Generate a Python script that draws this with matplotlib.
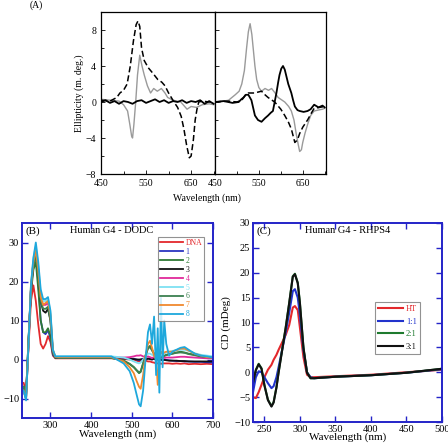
import numpy as np
import matplotlib as mpl
mpl.use('Agg')
import matplotlib.pyplot as plt

plt.rcParams['font.family'] = ['Liberation Serif', 'DejaVu Serif']

# ---- panel A data (wavelength nm, ellipticity m.deg) ----
a_left_dash_x = [450, 470, 485, 492, 500, 508, 515, 522, 528, 532, 536, 540, 546, 555, 565, 576, 585, 592, 600, 612, 620, 628, 634, 640, 646, 650, 655, 659, 663, 667, 675, 690, 700]
a_left_dash_y = [0.2, 0.1, 0.5, 1.0, 1.3, 2.0, 4.0, 6.8, 8.6, 9.0, 8.4, 6.0, 4.6, 3.8, 3.2, 2.5, 2.2, 1.8, 1.0, 0.0, -0.6, -1.6, -3.0, -4.8, -6.2, -6.0, -4.2, -2.0, -0.8, 0.0, 0.1, 0.0, 0.1]
a_left_gray_x = [450, 470, 490, 500, 509, 514, 518, 520, 523, 527, 531, 536, 541, 546, 553, 560, 567, 575, 584, 592, 598, 610, 627, 641, 650, 662, 675, 690, 700]
a_left_gray_y = [0.3, 0.2, 0.1, -0.3, -1.0, -2.5, -3.8, -4.0, -2.5, 0.0, 3.0, 5.2, 4.0, 3.0, 1.8, 1.0, 1.5, 1.2, 1.5, 1.0, 0.5, 0.2, 0.0, -0.8, -0.5, -0.6, -0.3, -0.2, -0.3]
a_left_solid_x = [450, 460, 470, 480, 490, 500, 510, 520, 530, 540, 550, 560, 570, 580, 590, 600, 610, 620, 630, 640, 650, 660, 670, 680, 690, 700]
a_left_solid_y = [0.0, 0.2, -0.1, 0.1, -0.2, 0.1, 0.0, -0.2, 0.1, 0.2, -0.1, 0.1, 0.3, 0.0, 0.2, -0.1, 0.1, 0.0, 0.2, -0.1, 0.1, 0.0, 0.2, -0.2, 0.1, -0.2]

a_right_gray_x = [450, 470, 481, 496, 505, 511, 517, 522, 526, 530, 534, 537, 541, 545, 550, 556, 564, 572, 579, 587, 594, 609, 618, 624, 630, 635, 640, 643, 647, 650, 655, 661, 668, 676, 685, 695, 700]
a_right_gray_y = [0.0, 0.1, 0.2, 0.8, 1.2, 2.0, 3.5, 6.0, 7.8, 8.7, 7.5, 6.0, 4.0, 2.5, 1.6, 1.2, 1.5, 1.3, 1.5, 1.0, 0.5, 0.0, -0.5, -1.0, -2.0, -3.5, -4.8, -5.5, -5.3, -4.5, -3.5, -2.5, -1.5, -1.0, -0.9, -0.8, -0.7]
a_right_dash_x = [450, 480, 500, 511, 520, 526, 540, 556, 564, 571, 586, 600, 609, 617, 624, 632, 638, 643, 650, 661, 670, 676, 688, 700]
a_right_dash_y = [0.0, 0.1, 0.0, 0.2, 0.8, 1.0, 1.0, 1.2, 0.8, 0.5, 0.0, -0.8, -1.5, -2.2, -3.0, -4.5, -4.2, -3.5, -2.8, -2.0, -1.2, -0.7, -0.6, -0.5]
a_right_solid_x = [450, 470, 490, 504, 510, 515, 520, 526, 533, 541, 548, 556, 564, 571, 577, 582, 586, 590, 594, 597, 601, 605, 609, 612, 617, 624, 628, 632, 638, 643, 652, 661, 668, 676, 686, 695, 700]
a_right_solid_y = [0.0, 0.1, -0.1, 0.0, 0.3, 0.5, 0.8, 0.8, 0.2, -1.5, -2.0, -2.2, -1.8, -1.5, -1.2, -1.0, 0.0, 1.0, 2.2, 3.0, 3.7, 4.0, 3.6, 3.0, 2.0, 1.0, 0.2, -0.5, -0.9, -1.0, -1.1, -1.0, -0.8, -0.3, -0.6, -0.4, -0.6]

# ---- panel B data: Human G4 - DODC ----
wl_b = [234, 240, 246, 252, 258, 264, 270, 276, 282, 288, 294, 300, 306, 312, 320, 350, 400, 450, 480, 495, 505, 512, 518, 522, 528, 534, 540, 545, 550, 555, 560, 564, 568, 572, 576, 580, 585, 592, 600, 610, 620, 630, 640, 655, 670, 685, 700]
b_labels = ['DNA', '1', '2', '3', '4', '5', '6', '7', '8']
b_colors = ['#e3282c', '#2b35c0', '#2e7a34', '#111111', '#e02a9a', '#7ee0f2', '#3c8050', '#f0892e', '#1ea8dc']
cd_dna = [-6, -8, 3, 15, 19, 15, 9, 4, 2.8, 4, 6, 4.5, 1, 0.3, 0.3, 0.3, 0.3, 0.3, 0.1, 0, 0, -0.3, -0.5, -0.3, 0, -0.3, -0.5, -0.5, -0.7, -0.8, -1, -1, -1, -1.1, -1, -1, -1, -1, -1.1, -1, -1.1, -1, -1.2, -1.1, -1.2, -1.1, -1.2]
cd_1 = [-7, -9, 5, 18, 24, 27, 20, 10, 7, 6.5, 7.5, 5.5, 1.2, 0.5, 0.4, 0.4, 0.4, 0.4, 0.3, 0.2, 0.2, 0, -0.2, 0, 0.2, 0, 0.3, 0.2, 0, 0.3, -0.2, 0, 0.2, 0, -0.2, 0, -0.1, -0.2, -0.3, -0.4, -0.4, -0.5, -0.5, -0.6, -0.6, -0.7, -0.8]
cd_2 = [-7, -9, 5, 17, 23, 25, 18, 10, 7, 7, 8, 6, 1.5, 0.5, 0.4, 0.4, 0.4, 0.4, -0.3, -1.2, -2, -2.8, -3.5, -3.2, -1, 1, 3, 3.5, 2.5, 1.5, 0, 0.8, 0.5, 0.5, 0.8, 1, 1.2, 1.4, 1.5, 1.8, 2, 1.8, 1.5, 1.2, 0.8, 0.6, 0.5]
cd_3 = [-8, -10, 4, 18, 25, 28, 22, 15, 12.5, 12, 13, 10, 2, 0.5, 0.4, 0.4, 0.4, 0.4, 0.3, 0.2, 0.1, 0, 0, 0, 0.1, 0, 0.2, 0.1, 0, 0.2, 0, 0.1, 0, 0, -0.2, -0.1, -0.2, -0.3, -0.3, -0.3, -0.4, -0.4, -0.5, -0.5, -0.5, -0.5, -0.5]
cd_4 = [-8, -10, 4, 18, 25, 28, 23, 16, 14, 14, 14.5, 11, 2, 0.6, 0.5, 0.5, 0.5, 0.5, 0.5, 0.6, 0.8, 1, 1, 1.1, 0.8, 0.6, 0.8, 0.6, 0.4, 0.6, 0.5, 0.4, 0.6, 0.5, 0.5, 0.4, 0.5, 0.5, 0.5, 0.6, 0.7, 0.7, 0.6, 0.5, 0.4, 0.3, 0.3]
cd_5 = [-8, -10, 4, 19, 26, 29, 24, 17, 15, 15, 15.5, 12, 2.5, 0.8, 0.8, 0.8, 0.8, 0.8, 0.5, 0, -0.5, -0.8, -1, -0.8, 0, 0.8, 1.5, 1.5, 1.2, 1, 0.5, 1, 0.8, 0.8, 1.2, 1.5, 1.8, 2, 2.2, 2.4, 2.5, 2.5, 2.2, 1.6, 1.2, 1, 0.8]
cd_6 = [-7, -9, 5, 18, 24, 27, 21, 15, 13, 13, 13.5, 10, 2, 0.5, 0.4, 0.4, 0.4, 0.4, -0.3, -1.1, -1.9, -2.7, -3.3, -3.0, -1, 1, 2.8, 3.2, 2.3, 1.4, 0, 0.7, 0.5, 0.5, 0.7, 0.9, 1.1, 1.3, 1.5, 1.7, 1.8, 1.7, 1.4, 1.1, 0.8, 0.6, 0.5]
cd_7 = [-8, -10, 4, 19, 25, 28, 23, 16, 14, 14.5, 15, 11.5, 2.5, 0.7, 0.6, 0.6, 0.6, 0.6, -0.5, -2, -3.5, -5.5, -7, -7.5, -4, 1, 4, 4.8, 3, 1, 0, -6.5, 0.5, 2, 1.5, 1.8, 2, 2, 2, 2.4, 2.8, 2.8, 2.3, 1.5, 1, 0.6, 0.5]
cd_8 = [-8, -10.5, 4, 19, 26, 30, 25, 18, 15.5, 15.5, 16, 12.5, 2.5, 0.8, 0.8, 0.8, 0.8, 0.8, -1, -3, -6, -9, -11.5, -12, -8, 0, 7, 9, 4, 11, -4, 8, -8.5, 15.8, -2, 10, 4, 1, 2, 2.5, 3, 3.2, 2.5, 1.5, 1, 0.8, 0.5]
b_series = [cd_dna, cd_1, cd_2, cd_3, cd_4, cd_5, cd_6, cd_7, cd_8]

# ---- panel C data: Human G4 - RHPS4 ----
wl_c = [234, 238, 242, 246, 250, 255, 260, 263, 267, 270, 275, 280, 285, 290, 293, 297, 300, 305, 310, 315, 320, 350, 400, 450, 500]
c_labels = ['HT', '1:1', '2:1', '3:1']
c_colors = ['#e3282c', '#2233cc', '#1e7a2e', '#111111']
cd_ht = [-5, -5.2, -4, -2.5, -1, 0.5, 1.5, 2.5, 3.5, 4.5, 6, 7.5, 9.5, 13, 13.3, 12.5, 9, 3, -0.5, -1, -1, -0.8, -0.5, 0, 0.5]
cd_11 = [-4, -1, 0.2, 0, -1, -2.2, -3.2, -2.8, -1, 1, 4.5, 8, 12, 16.3, 16.7, 15, 11.5, 4.5, 0, -1, -1.2, -0.9, -0.6, -0.1, 0.6]
cd_21 = [-2, 0.5, 1.7, 0.8, -2.5, -5.5, -6.8, -6, -3, 0, 4.5, 9, 14, 19.3, 19.8, 18, 14, 5, 0, -1.2, -1.2, -0.9, -0.6, -0.1, 0.7]
cd_31 = [-2.2, 0.4, 1.6, 0.7, -2.6, -5.6, -6.9, -6.1, -3.1, -0.1, 4.4, 8.9, 13.9, 19.2, 19.7, 17.9, 13.9, 4.9, -0.1, -1.2, -1.2, -0.9, -0.6, -0.1, 0.7]
c_series = [cd_ht, cd_11, cd_21, cd_31]

W, H = 448, 444
fig = plt.figure(figsize=(W / 100, H / 100), dpi=100)

def box(x0, y0, x1, y1):
    return [x0 / W, 1 - y1 / H, (x1 - x0) / W, (y1 - y0) / H]

# ---------------- panel A ----------------
axl = fig.add_axes(box(101, 12, 215, 174))
axr = fig.add_axes(box(215, 12, 326, 174), sharey=axl)
axl.plot(a_left_gray_x, a_left_gray_y, color='#9a9a9a', lw=1.0)
axl.plot(a_left_solid_x, a_left_solid_y, color='black', lw=1.3)
axl.plot(a_left_dash_x, a_left_dash_y, color='black', lw=1.1, ls=(0, (4, 2)))
axr.plot(a_right_gray_x, a_right_gray_y, color='#9a9a9a', lw=1.0)
axr.plot(a_right_dash_x, a_right_dash_y, color='black', lw=1.1, ls=(0, (4, 2)))
axr.plot(a_right_solid_x, a_right_solid_y, color='black', lw=1.3)
for ax in (axl, axr):
    ax.set_xlim(450, 703)
    ax.set_ylim(-8, 10)
    ax.set_xticks([450, 550, 650])
    ax.set_xticks([500, 600, 700], minor=True)
    ax.tick_params(direction='in', labelsize=7, length=3, width=0.6)
    ax.tick_params(which='minor', direction='in', length=2, width=0.6)
    for s in ax.spines.values():
        s.set_linewidth(0.9)
axl.set_yticks([-8, -4, 0, 4, 8])
axl.set_yticks([-6, -2, 2, 6], minor=True)
axr.tick_params(labelleft=False)
axl.set_ylabel('Ellipticity (m. deg.)', fontsize=7, labelpad=1)
fig.text(207 / W, 1 - 198 / H, 'Wavelength (nm)', ha='center', va='center', fontsize=7)
fig.text(30 / W, 1 - 5 / H, '(A)', ha='left', va='center', fontsize=7)

blue = '#2424c8'

def style_blue(ax):
    for s in ax.spines.values():
        s.set_color(blue)
        s.set_linewidth(1.4)
    ax.tick_params(which='both', direction='in', color=blue, top=True, right=True,
                   labelsize=7.5, length=4, width=1.0, pad=2)

# ---------------- panel B ----------------
axb = fig.add_axes(box(22, 223, 213, 418))
for lab, col, vals in zip(b_labels, b_colors, b_series):
    axb.plot(wl_b, vals, color=col, lw=1.3, label=lab)
axb.set_xlim(230, 700)
axb.set_ylim(-15, 35)
axb.set_xticks([300, 400, 500, 600, 700])
axb.set_yticks([-10, 0, 10, 20, 30])
style_blue(axb)
axb.set_xlabel('Wavelength (nm)', fontsize=8, labelpad=0)
axb.set_ylabel('CD (mDeg)', fontsize=8, labelpad=2)
axb.text(0.02, 0.985, '(B)', transform=axb.transAxes, ha='left', va='top', fontsize=8)
axb.text(0.47, 0.985, 'Human G4 - DODC', transform=axb.transAxes, ha='center', va='top', fontsize=7.5)
legb = axb.legend(loc='upper right', bbox_to_anchor=(0.955, 0.93), fontsize=5.5, frameon=True,
                  fancybox=False, edgecolor='#777777', handlelength=3.0, handletextpad=0.3,
                  labelspacing=0.12, borderpad=0.3, borderaxespad=0)
legb.get_frame().set_linewidth(0.8)
for t, c in zip(legb.get_texts(), b_colors):
    t.set_color(c)

# ---------------- panel C ----------------
axc = fig.add_axes(box(253, 223, 442, 422))
for lab, col, vals in zip(c_labels, c_colors, c_series):
    axc.plot(wl_c, vals, color=col, lw=1.5, label=lab)
axc.set_xlim(234, 500)
axc.set_ylim(-10, 30)
axc.set_xticks([250, 300, 350, 400, 450, 500])
axc.set_yticks([-10, -5, 0, 5, 10, 15, 20, 25, 30])
style_blue(axc)
axc.set_xlabel('Wavelength (nm)', fontsize=8, labelpad=-1)
axc.set_ylabel('CD (mDeg)', fontsize=8, labelpad=2)
axc.text(0.02, 0.985, '(C)', transform=axc.transAxes, ha='left', va='top', fontsize=8)
axc.text(0.5, 0.985, 'Human G4 - RHPS4', transform=axc.transAxes, ha='center', va='top', fontsize=7.5)
legc = axc.legend(loc='upper right', bbox_to_anchor=(0.885, 0.605), fontsize=6, frameon=True,
                  fancybox=False, edgecolor='#777777', handlelength=3.0, handletextpad=0.3,
                  labelspacing=0.55, borderpad=0.4, borderaxespad=0)
legc.get_frame().set_linewidth(0.8)
for t, c in zip(legc.get_texts(), c_colors):
    t.set_color(c)

fig.savefig('out.png', dpi=100)
